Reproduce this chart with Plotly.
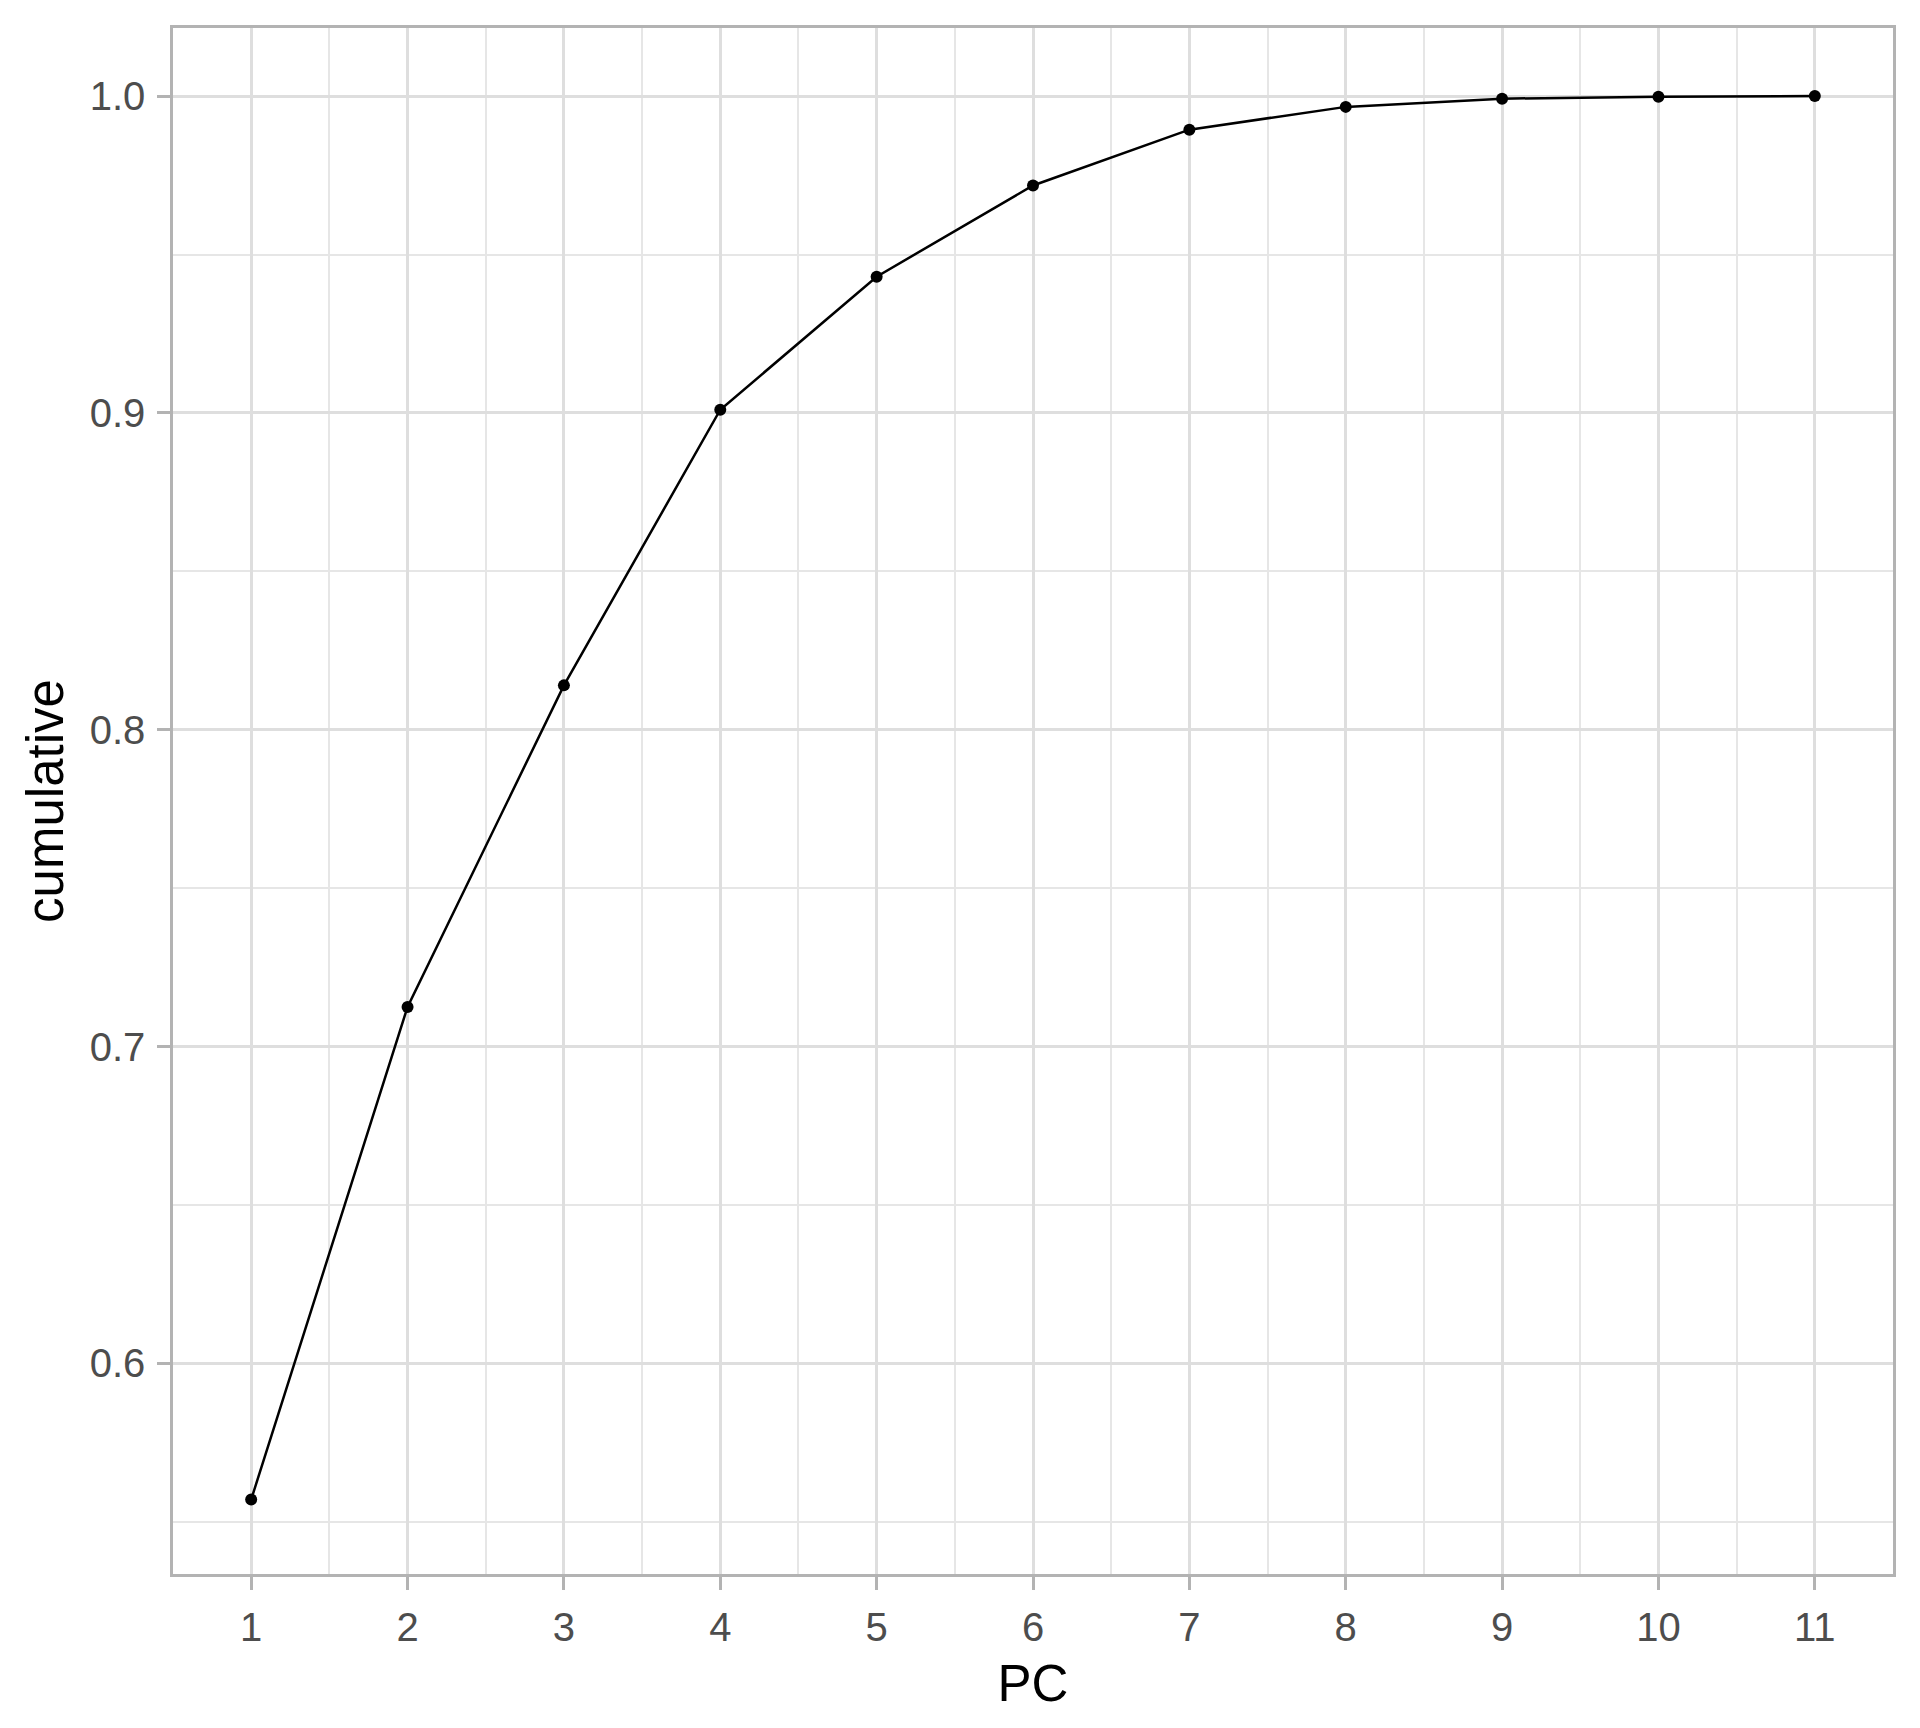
import plotly.graph_objects as go

pc = [1, 2, 3, 4, 5, 6, 7, 8, 9, 10, 11]
cumulative = [0.557, 0.7125, 0.814, 0.901, 0.943, 0.9718, 0.9894, 0.9966, 0.9992, 0.9998, 1.0]
x_ticks = [1, 2, 3, 4, 5, 6, 7, 8, 9, 10, 11]
y_ticks = [0.6, 0.7, 0.8, 0.9, 1.0]
x_minor = [1.5, 2.5, 3.5, 4.5, 5.5, 6.5, 7.5, 8.5, 9.5, 10.5]
y_minor = [0.55, 0.65, 0.75, 0.85, 0.95]

FONT = "Liberation Sans, Arial, Helvetica, sans-serif"
BORDER = "#B3B3B3"
GRID = "#DEDEDE"
GRID_MINOR = "#E6E6E6"

fig = go.Figure()
fig.add_trace(go.Scatter(
    x=pc, y=cumulative, mode="lines+markers",
    line=dict(color="black", width=2.5),
    marker=dict(color="black", size=12),
    showlegend=False,
))

# page body has an 8px margin, so the figure is sized to fit inside the window
fig.update_layout(
    width=1904, height=1712,
    margin=dict(l=165, r=19, t=20, b=146),
    paper_bgcolor="white", plot_bgcolor="white",
    font=dict(family=FONT),
)

fig.update_xaxes(
    range=[0.5, 11.5],
    tickmode="array", tickvals=x_ticks, ticktext=[str(v) for v in x_ticks],
    ticks="outside", ticklen=13, tickwidth=2.5, tickcolor=BORDER,
    ticklabelstandoff=3,
    tickfont=dict(size=40, color="#4D4D4D", family=FONT),
    showgrid=True, gridcolor=GRID, gridwidth=2.5,
    minor=dict(tickvals=x_minor, showgrid=True, gridcolor=GRID_MINOR, gridwidth=1.5, ticks=""),
    showline=True, linecolor=BORDER, linewidth=2.5, mirror=True,
    zeroline=False,
    title=dict(text="PC", font=dict(size=51, color="black", family=FONT), standoff=18),
)

fig.update_yaxes(
    range=[0.5335, 1.0215],
    tickmode="array", tickvals=y_ticks, ticktext=[f"{v:.1f}" for v in y_ticks],
    ticks="outside", ticklen=13, tickwidth=2.5, tickcolor=BORDER,
    ticklabelstandoff=4,
    tickfont=dict(size=40, color="#4D4D4D", family=FONT),
    showgrid=True, gridcolor=GRID, gridwidth=2.5,
    minor=dict(tickvals=y_minor, showgrid=True, gridcolor=GRID_MINOR, gridwidth=1.5, ticks=""),
    showline=True, linecolor=BORDER, linewidth=2.5, mirror=True,
    zeroline=False,
    title=dict(text="cumulative", font=dict(size=51, color="black", family=FONT), standoff=10),
)

fig.write_html("out.html")
